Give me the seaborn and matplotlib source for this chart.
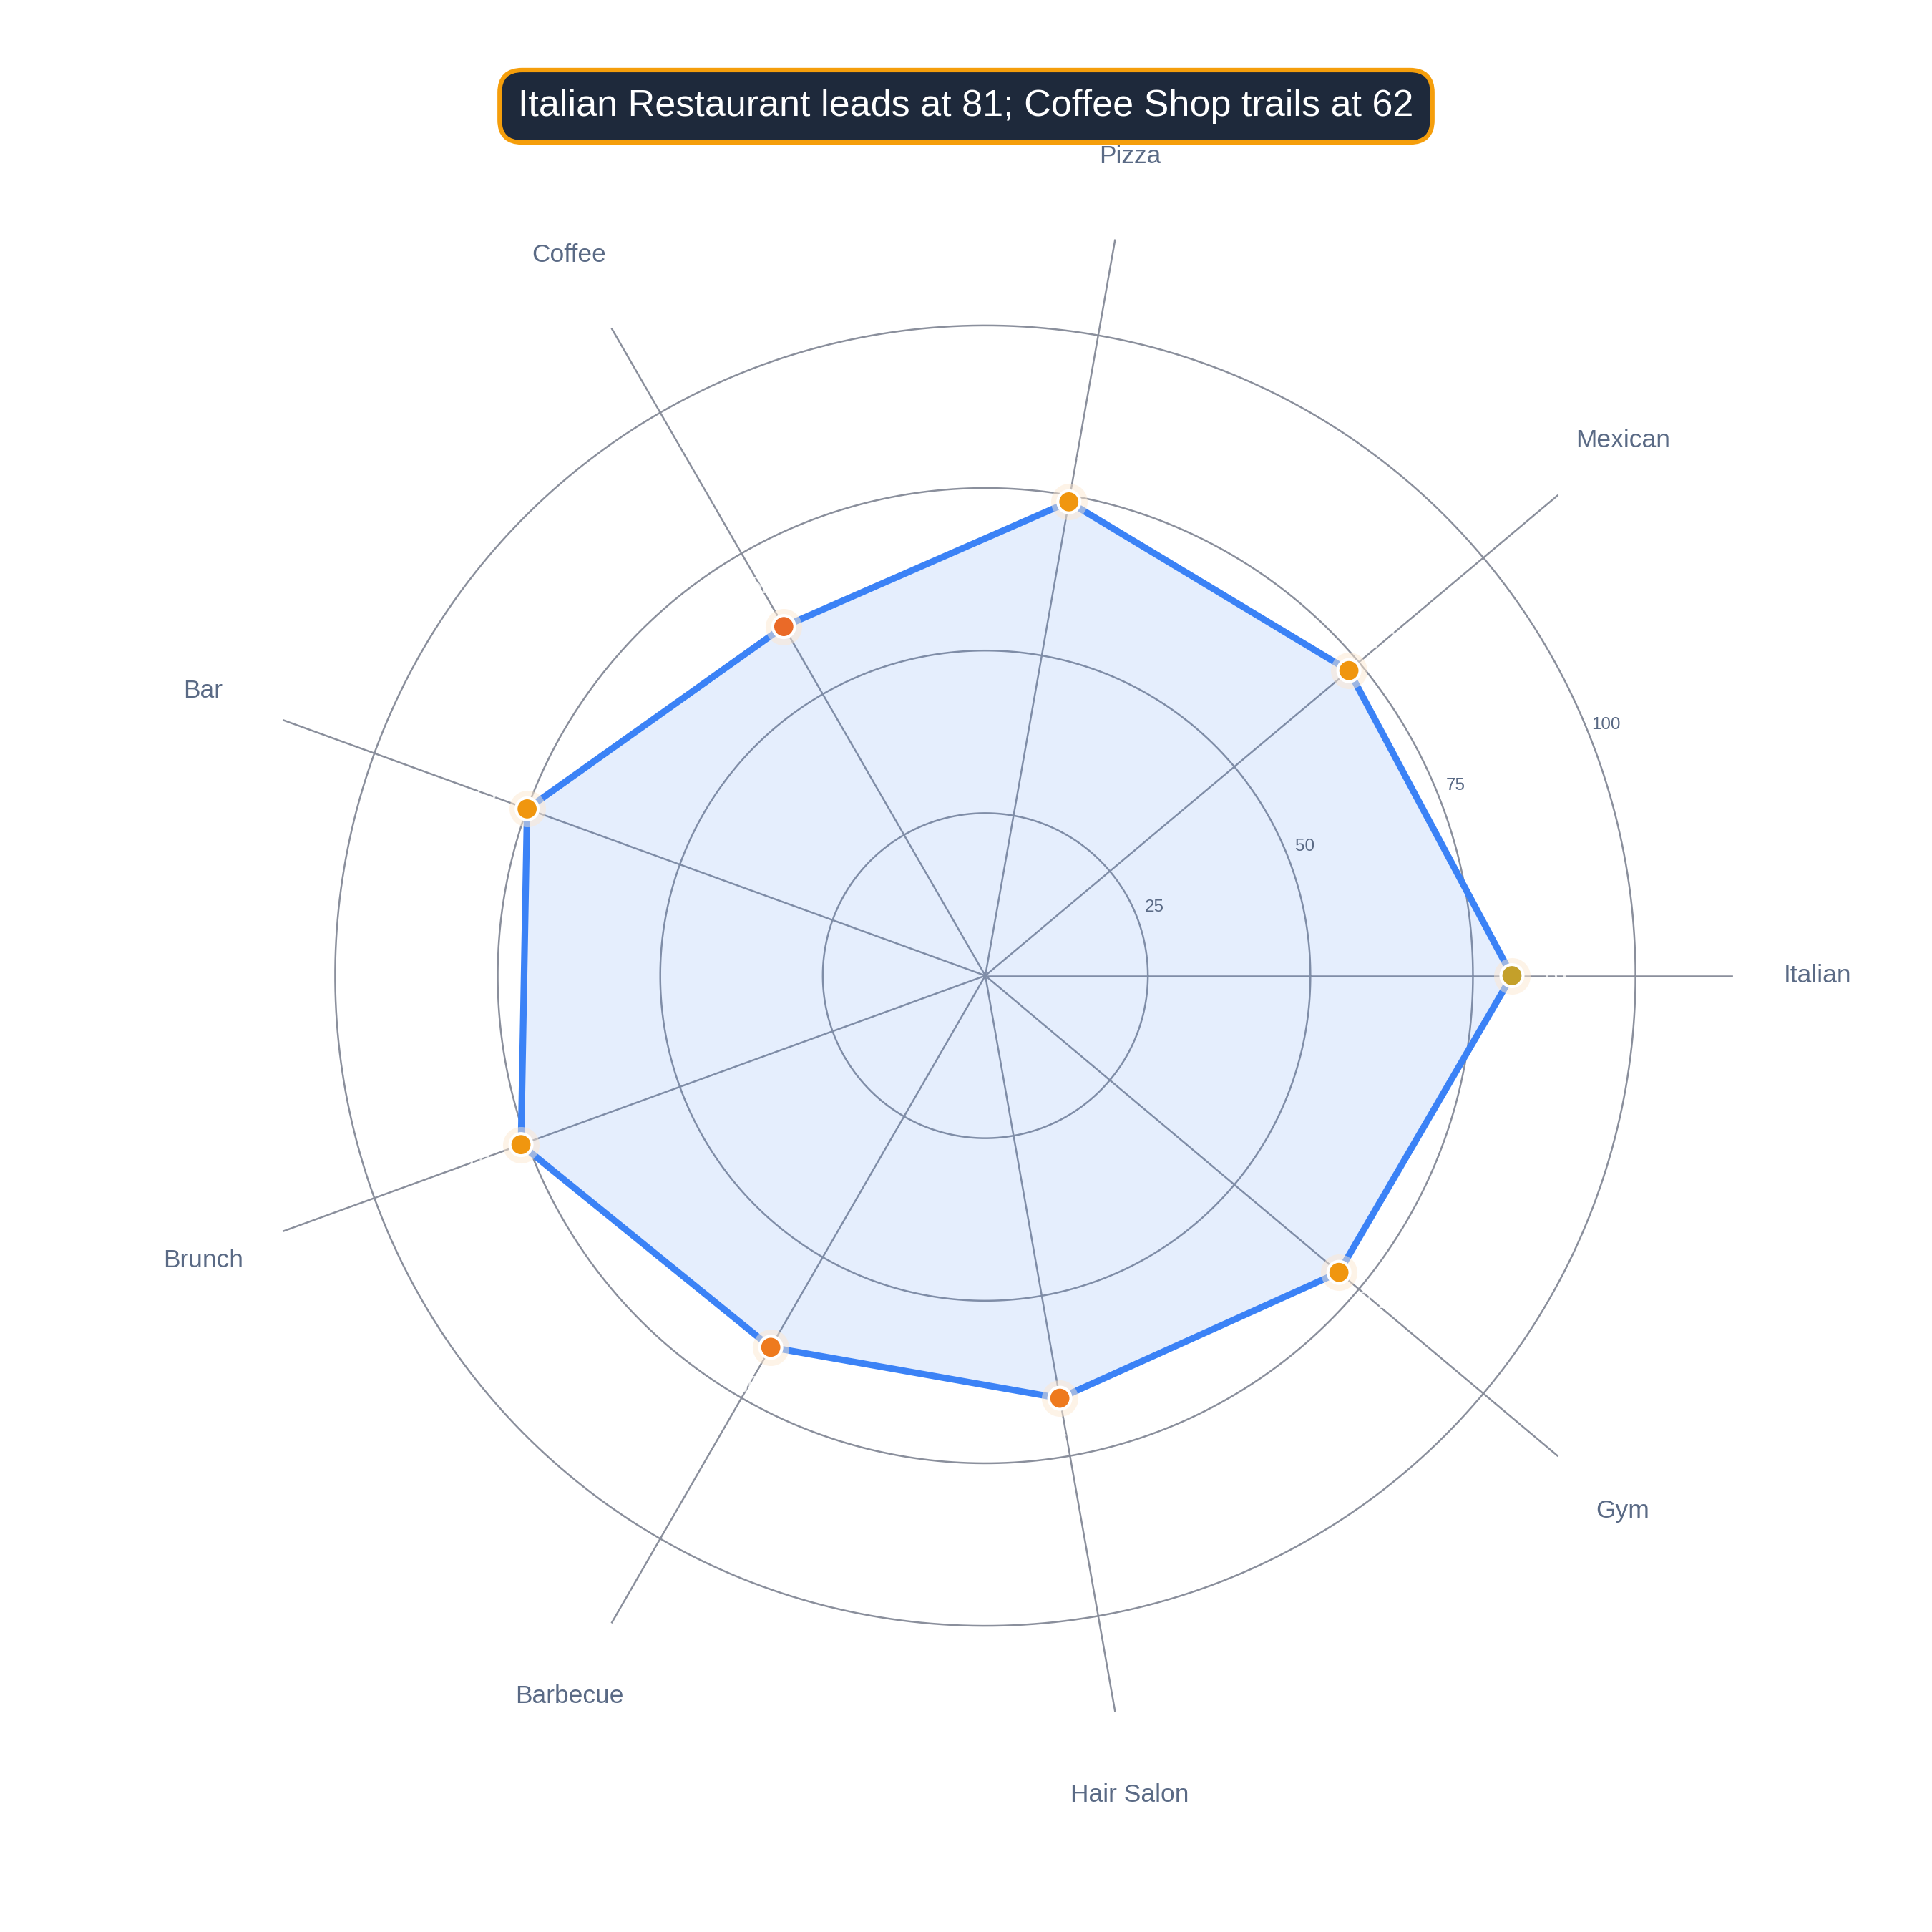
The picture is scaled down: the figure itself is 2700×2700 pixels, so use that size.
import numpy as np
import matplotlib
matplotlib.use("Agg")
import matplotlib.pyplot as plt
import seaborn as sns

categories = ["Italian", "Mexican", "Pizza", "Coffee", "Bar", "Brunch", "Barbecue", "Hair Salon", "Gym"]
values = [81, 73, 74, 62, 75, 76, 66, 66, 71]
point_colors = ["#c4a02a", "#f0960f", "#f0960f", "#ea6a28", "#f0960f", "#f0960f", "#ee7a1e", "#ee7a1e", "#f0960f"]
title = "Italian Restaurant leads at 81; Coffee Shop trails at 62"

sns.set_theme(style="white")
plt.rcParams['font.family'] = ['Liberation Sans', 'DejaVu Sans']

fig = plt.figure(figsize=(9, 9), dpi=300)
ax = fig.add_axes([0.123, 0.108, 0.774, 0.774], polar=True)
n = len(categories)
ang = np.deg2rad(np.arange(n) * 360 / n)
ac = np.append(ang, ang[0]); vc = np.append(values, values[0])

ax.set_ylim(0, 115)
ax.spines['polar'].set_visible(False)
ax.grid(False)
for r in [25, 50, 75, 100]:
    t = np.linspace(0, 2*np.pi, 400)
    ax.plot(t, np.full_like(t, r), color="#8a8f9c", lw=0.6, zorder=1)
for a in ang:
    ax.plot([a, a], [0, 115], color="#8a8f9c", lw=0.6, zorder=1)
ax.set_xticks([]); ax.set_yticks([])
for r in [25, 50, 75, 100]:
    ax.text(np.deg2rad(22), r + 3, str(r), fontsize=5.8, color="#5a6a85", ha="center", va="center")

ax.fill(ac, vc, color="#3b82f6", alpha=0.13, zorder=2)
ax.plot(ac, vc, color="#3b82f6", lw=2.2, zorder=3)
ax.scatter(ang, values, s=150, c="#fde8d0", alpha=0.5, zorder=4, linewidths=0)
ax.scatter(ang, values, s=55, c=point_colors, edgecolors="white", linewidths=1.0, zorder=5)
for a, v in zip(ang, values):
    ax.text(a, v + 7, str(v), color="white", fontsize=8, ha="center", va="center", alpha=0.8, zorder=6)
for a, c in zip(ang, categories):
    ax.text(a, 128, c, fontsize=8.5, color="#5a6a85", ha="center", va="center")

fig.text(0.5, 0.945, title, fontsize=12.5, color="white", ha="center", va="center",
         bbox=dict(boxstyle="round,pad=0.5,rounding_size=0.6", fc="#1e293b", ec="#f59e0b", lw=1.5))
fig.savefig("out.png", dpi=300, facecolor="white")
